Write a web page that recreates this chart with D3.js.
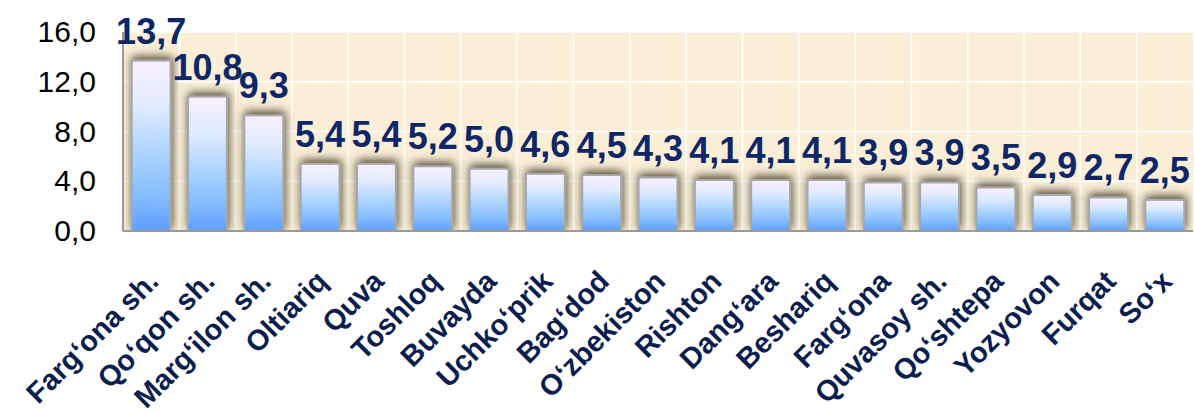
<!DOCTYPE html>
<html><head><meta charset="utf-8">
<script src="https://cdn.jsdelivr.net/npm/d3@7"></script>
<style>body{margin:0;background:#fff}svg{display:block}</style>
</head><body>
<svg id="chart" width="1195" height="414"></svg>
<script>
const categories = ["Farg‘ona sh.","Qo‘qon sh.","Marg‘ilon sh.","Oltiariq","Quva","Toshloq","Buvayda","Uchko‘prik","Bag‘dod","O‘zbekiston","Rishton","Dang‘ara","Beshariq","Farg‘ona","Quvasoy sh.","Qo‘shtepa","Yozyovon","Furqat","So‘x"];
const values = [13.7,10.8,9.3,5.4,5.4,5.2,5.0,4.6,4.5,4.3,4.1,4.1,4.1,3.9,3.9,3.5,2.9,2.7,2.5];
const yTicks = [0,4,8,12,16];

const svg = d3.select("#chart");
const m = {left:123, right:2, top:32, bottom:183};
const W = 1195, H = 414;
const x = d3.scaleBand().domain(categories).range([m.left, W-m.right]).paddingInner(0.31).paddingOuter(0.155);
const xg = d3.scaleBand().domain(categories).range([m.left, W-m.right]).padding(0);
const y = d3.scaleLinear().domain([0,16]).range([H-m.bottom, m.top]);
const fmt = v => d3.format(".1f")(v).replace(".", ",");

const defs = svg.append("defs");
const grad = defs.append("linearGradient").attr("id","barGrad").attr("x1",0).attr("y1",0).attr("x2",0).attr("y2",1);
[[0,"#F8F0FF"],[0.25,"#E2EBFF"],[0.5,"#B4D8FF"],[0.8,"#84BCFF"],[1,"#5E9EFF"]].forEach(([o,c])=>grad.append("stop").attr("offset",o).attr("stop-color",c));
const f = defs.append("filter").attr("id","shadow").attr("x","-50%").attr("y","-50%").attr("width","200%").attr("height","200%");
f.append("feGaussianBlur").attr("in","SourceAlpha").attr("stdDeviation",5).attr("result","b");
f.append("feOffset").attr("in","b").attr("dx",1).attr("dy",-3).attr("result","o");
f.append("feFlood").attr("flood-color","#4a4430").attr("flood-opacity",1).attr("result","c");
f.append("feComposite").attr("in","c").attr("in2","o").attr("operator","in").attr("result","s");
const mg = f.append("feMerge");
mg.append("feMergeNode").attr("in","s");
mg.append("feMergeNode").attr("in","SourceGraphic");

// plot background
svg.append("rect").attr("x",m.left).attr("y",y(16)).attr("width",W-m.right-m.left).attr("height",y(0)-y(16)).attr("fill","#FAEFD6");
// gridlines
svg.append("g").selectAll("line.h").data(yTicks.slice(1)).join("line")
  .attr("x1",m.left).attr("x2",W-m.right).attr("y1",d=>y(d)).attr("y2",d=>y(d))
  .attr("stroke","#fff").attr("stroke-width",1.5);
svg.append("g").selectAll("line.v").data(categories.slice(1)).join("line")
  .attr("x1",d=>xg(d)).attr("x2",d=>xg(d)).attr("y1",y(16)).attr("y2",y(0))
  .attr("stroke","#fff").attr("stroke-width",1.5);

// bars
const clip = defs.append("clipPath").attr("id","plotClip");
clip.append("rect").attr("x",m.left).attr("y",0).attr("width",W-m.right-m.left).attr("height",y(0));
svg.append("g").attr("clip-path","url(#plotClip)").selectAll("rect.bar").data(values).join("rect")
  .attr("x",(d,i)=>x(categories[i])).attr("width",x.bandwidth())
  .attr("y",d=>y(d)).attr("height",d=>y(0)-y(d))
  .attr("fill","url(#barGrad)").attr("stroke","#A8A8A8").attr("stroke-width",2)
  .attr("filter","url(#shadow)");

// axes lines
svg.append("line").attr("x1",m.left).attr("x2",m.left).attr("y1",y(16)).attr("y2",y(0)).attr("stroke","#9a9a9a").attr("stroke-width",2);
svg.append("line").attr("x1",m.left).attr("x2",W-m.right).attr("y1",y(0)).attr("y2",y(0)).attr("stroke","#9a9a9a").attr("stroke-width",2);

// y axis
const yAxis = d3.axisLeft(y).tickValues(yTicks).tickFormat(fmt).tickSize(0).tickPadding(27);
const ya = svg.append("g").attr("transform",`translate(${m.left},0)`).call(yAxis);
ya.select(".domain").remove();
ya.selectAll("text").attr("font-family","Liberation Sans, Arial, sans-serif").attr("font-size",30).attr("fill","#000");

// value labels
svg.append("g").selectAll("text").data(values).join("text")
  .attr("x",(d,i)=>x(categories[i])+x.bandwidth()/2).attr("y",d=>y(d)-17)
  .attr("text-anchor","middle").attr("font-family","Liberation Sans, Arial, sans-serif")
  .attr("font-weight","bold").attr("font-size",36).attr("fill","#0F2766")
  .text(d=>fmt(d));

// x labels
const xAxis = d3.axisBottom(xg).tickSize(0).tickPadding(0);
const xa = svg.append("g").attr("transform",`translate(0,${y(0)})`).call(xAxis);
xa.select(".domain").remove();
xa.selectAll("text")
  .attr("font-family","Liberation Sans, Arial, sans-serif").attr("font-weight","bold").attr("font-size",29).attr("fill","#0B1E4E")
  .attr("text-anchor","end").attr("dy",0).attr("y",0)
  .attr("transform","translate(9,52) rotate(-45)");
</script>
</body></html>
